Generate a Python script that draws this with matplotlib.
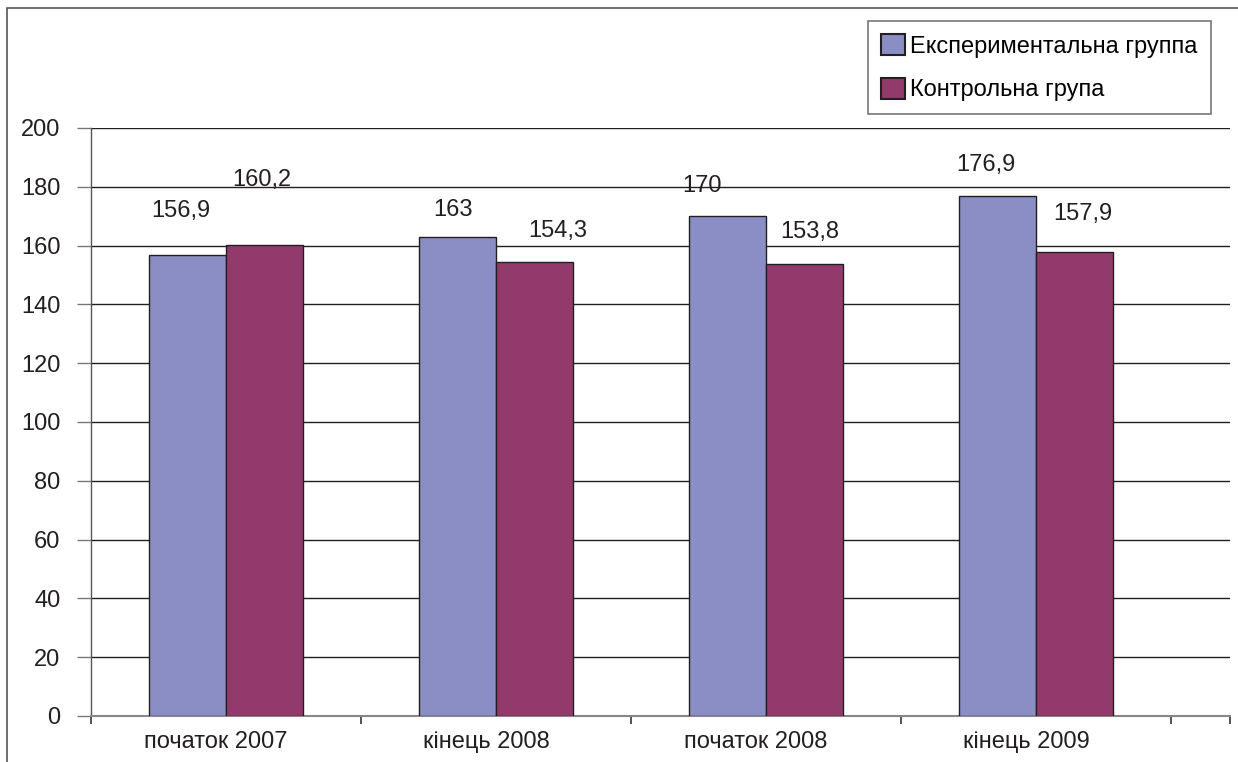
import matplotlib
matplotlib.use("Agg")
import matplotlib.pyplot as plt
import matplotlib.transforms as mtransforms
from matplotlib.patches import Rectangle, Patch
import numpy as np

plt.rcParams['font.family'] = ['Liberation Sans', 'DejaVu Sans']

categories = ["початок 2007", "кінець 2008", "початок 2008", "кінець 2009"]
series_names = ["Експериментальна группа", "Контрольна група"]
exp_values = [156.9, 163, 170, 176.9]
ctrl_values = [160.2, 154.3, 153.8, 157.9]
exp_labels = ["156,9", "163", "170", "176,9"]
ctrl_labels = ["160,2", "154,3", "153,8", "157,9"]
y_ticks = [0, 20, 40, 60, 80, 100, 120, 140, 160, 180, 200]

# label placement offsets (pixels) relative to bar top centre
exp_lab_dx = [-6, -4, -25, -11]
exp_lab_dy = [44, 27, 30, 31]
ctrl_lab_dx = [-3, 23, 5, 8]
ctrl_lab_dy = [65, 31, 32, 38]

W, H = 1238, 762
fig = plt.figure(figsize=(W / 100, H / 100), dpi=100)
fig.patch.set_facecolor("white")

# outer frame
fig.patches.append(Rectangle((7 / W, -0.05), 1.1, (H - 8) / H + 0.05,
                             transform=fig.transFigure, fill=False,
                             edgecolor="#555555", linewidth=1.2))

ax = fig.add_axes([91 / W, 1 - 716 / H, (1230 - 91) / W, (716 - 128) / H])

blue = "#8B8EC4"
red = "#933A6C"
edge = "#231F20"
bw = 0.287
x = np.arange(len(categories))

ax.bar(x - bw / 2, exp_values, bw, color=blue, edgecolor=edge, linewidth=1.0, zorder=3)
ax.bar(x + bw / 2, ctrl_values, bw, color=red, edgecolor=edge, linewidth=1.0, zorder=3)

fs = 17
for i in range(len(categories)):
    ax.annotate(exp_labels[i], (x[i] - bw / 2, exp_values[i]),
                xytext=(exp_lab_dx[i], exp_lab_dy[i]), textcoords="offset pixels",
                ha="center", va="center", fontsize=fs, color="#231F20", zorder=5)
    ax.annotate(ctrl_labels[i], (x[i] + bw / 2, ctrl_values[i]),
                xytext=(ctrl_lab_dx[i], ctrl_lab_dy[i]), textcoords="offset pixels",
                ha="center", va="center", fontsize=fs, color="#231F20", zorder=5)

x_end = -0.5 + (1230 - 91) / 270
ax.set_ylim(0, 200)
ax.set_xlim(-0.5, x_end)
ax.set_yticks(y_ticks)
ax.set_yticklabels([str(v) for v in y_ticks], fontsize=fs, color="#231F20")
ax.yaxis.grid(True, color="#231F20", linewidth=1.0, zorder=0)
ax.set_axisbelow(True)

ax.set_xticks(x)
ax.set_xticklabels(categories, fontsize=fs, color="#231F20")
ax.set_xticks(list(np.arange(len(categories) + 1) - 0.5) + [x_end - 0.001], minor=True)
ax.tick_params(axis="x", which="major", length=0, pad=11)
ax.tick_params(axis="x", which="minor", length=6, width=1.2, color="#333333", direction="out")
ax.tick_params(axis="y", length=10, width=1, color="#777777", pad=12)

offset = mtransforms.ScaledTranslation(-10 / 100, 0, fig.dpi_scale_trans)
for lab in ax.get_xticklabels():
    lab.set_transform(lab.get_transform() + offset)

for s in ["top", "right"]:
    ax.spines[s].set_visible(False)
ax.spines["left"].set_color("#555555")
ax.spines["bottom"].set_color("#888888")
ax.spines["left"].set_linewidth(1.0)
ax.spines["bottom"].set_linewidth(1.5)

handles = [Patch(facecolor=blue, edgecolor=edge, linewidth=1.5),
           Patch(facecolor=red, edgecolor=edge, linewidth=1.5)]
leg = fig.legend(handles, series_names, loc="upper left",
                 bbox_to_anchor=(868 / W, 1 - 21 / H), fontsize=fs,
                 frameon=True, fancybox=False, edgecolor="#555555",
                 handlelength=1.0, handleheight=1.0, handletextpad=0.25,
                 labelspacing=0.85, borderpad=0.55, borderaxespad=0)
leg.get_frame().set_linewidth(1.2)

fig.savefig("out.png", dpi=100)
